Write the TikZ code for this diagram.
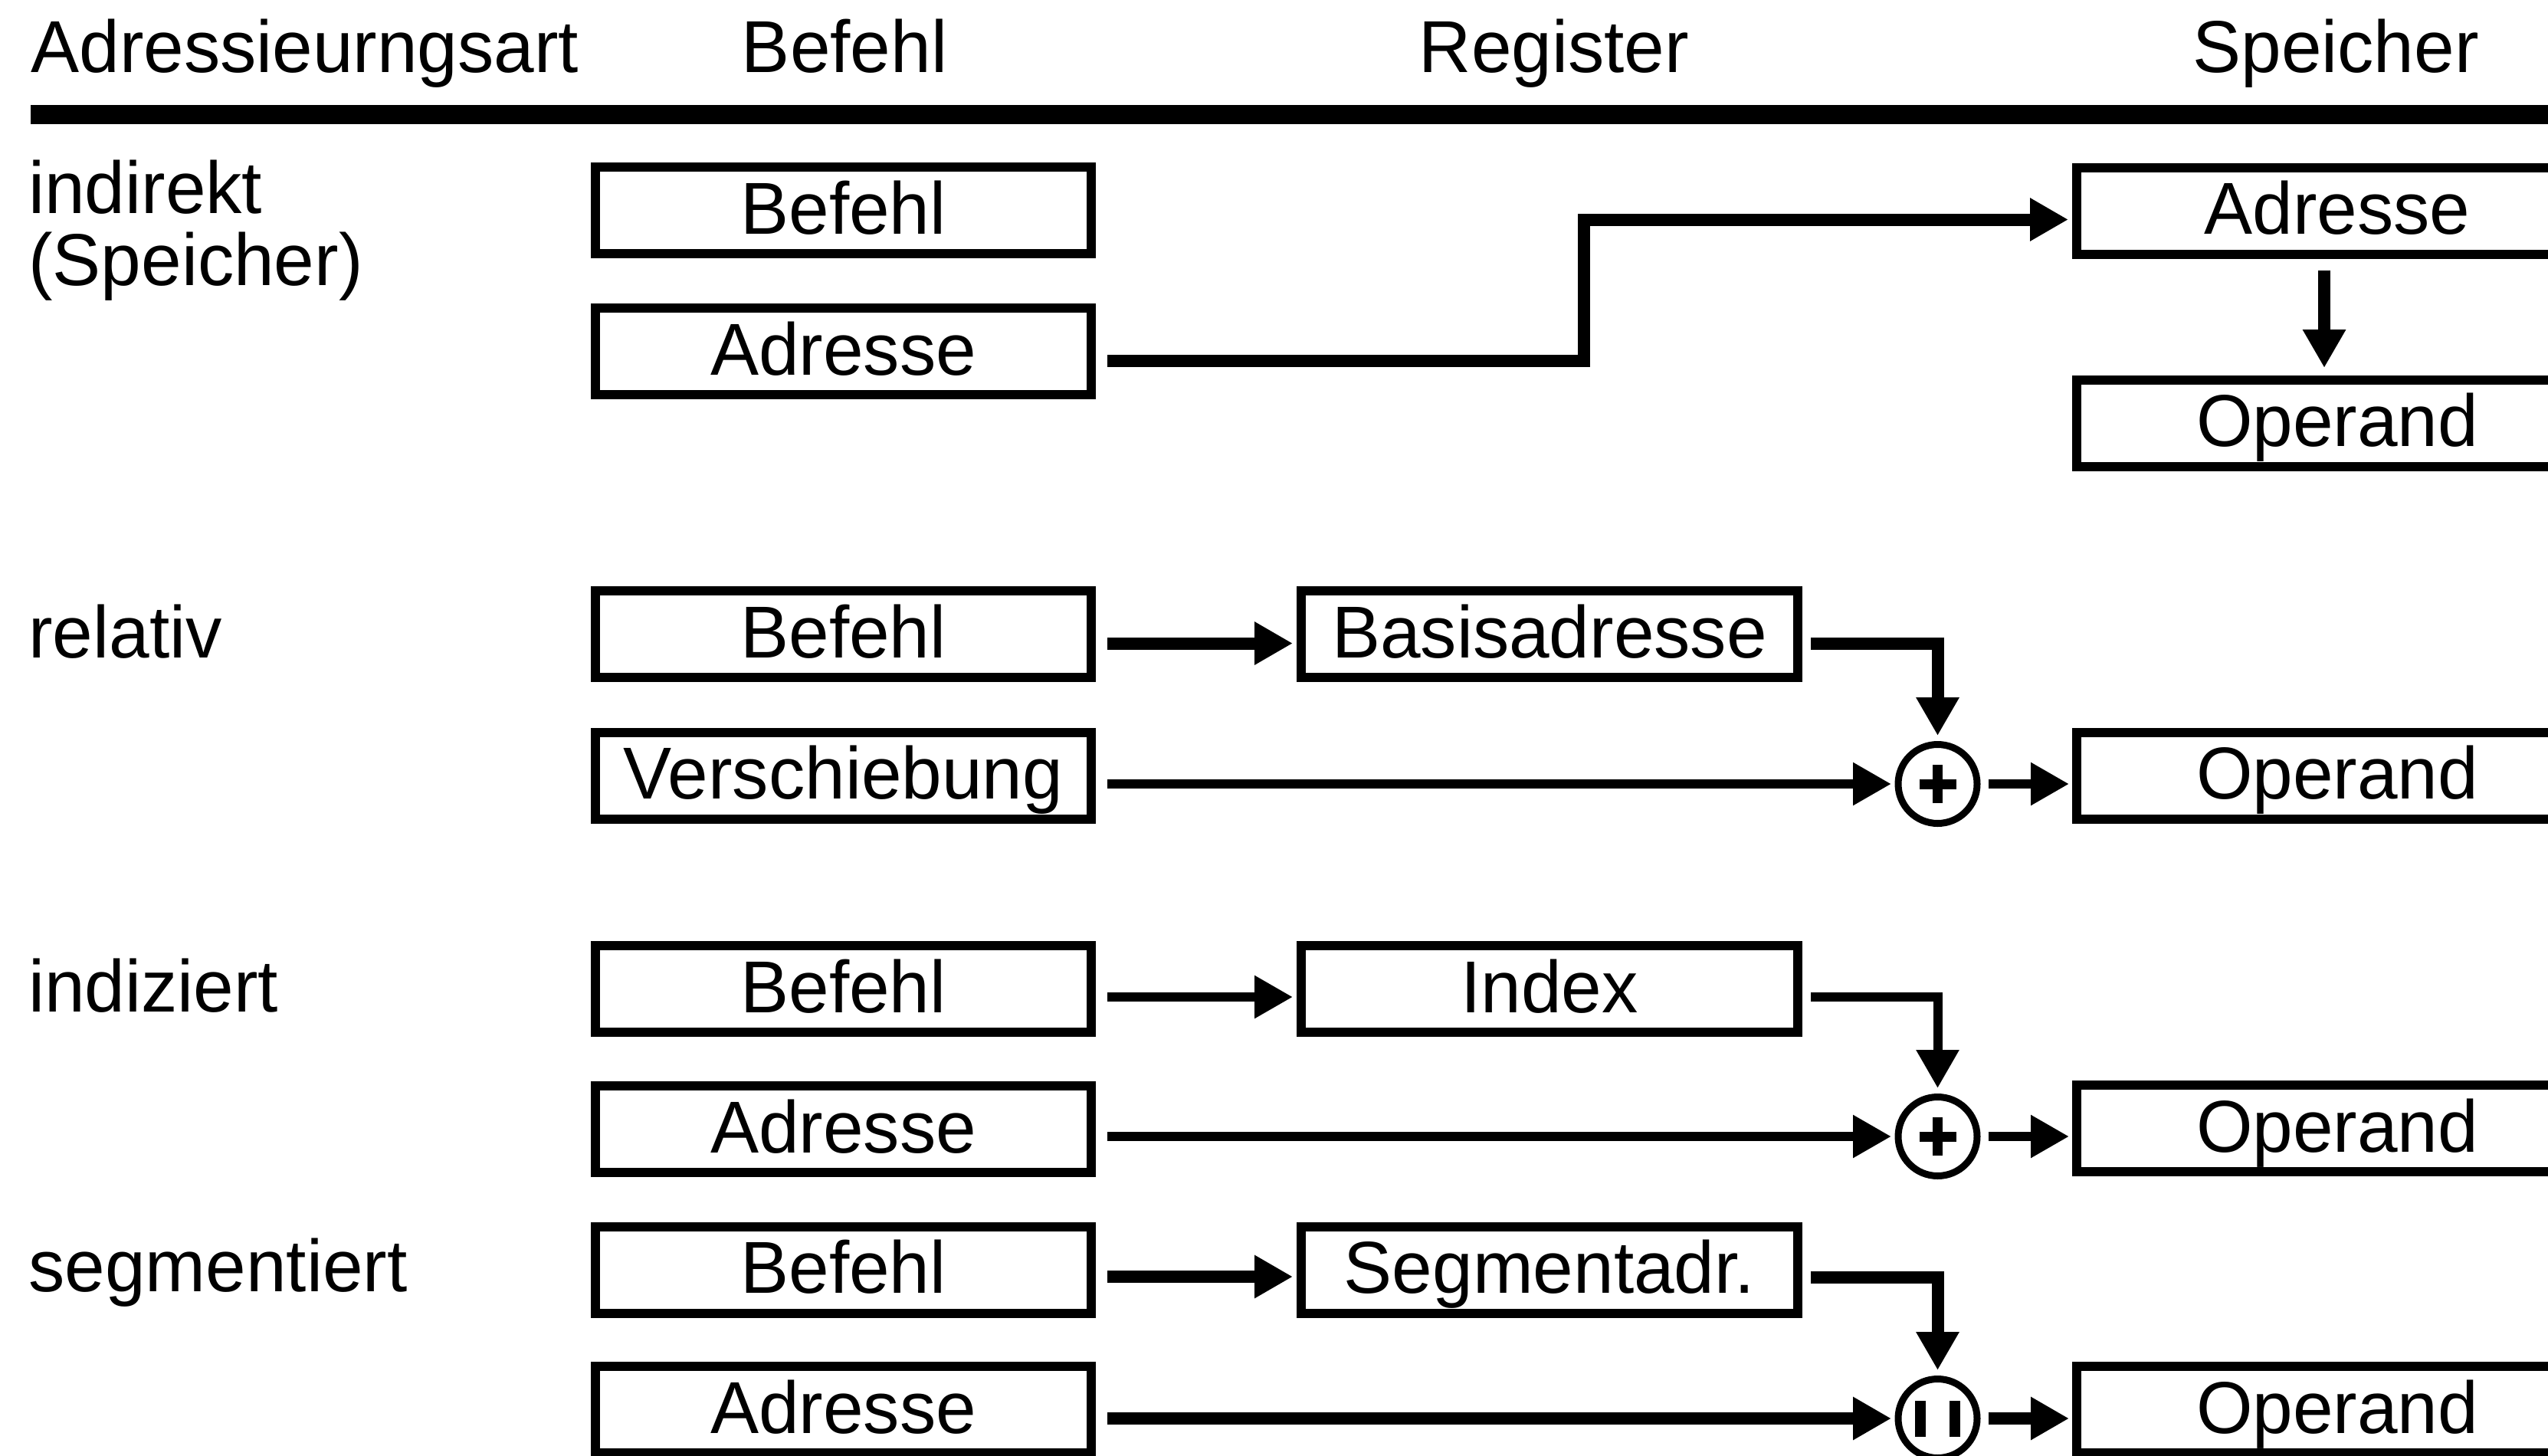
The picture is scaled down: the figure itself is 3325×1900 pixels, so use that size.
\documentclass[tikz,border=0pt]{standalone}
\usepackage{fontspec}
\setmainfont[FakeStretch=0.985]{Liberation Sans}
\usetikzlibrary{arrows.meta,calc}

\tikzset{
  lbl/.style={inner sep=0pt, font=\fontsize{48pt}{56pt}\selectfont},
  cell/.style={draw, line width=6pt, inner sep=0pt,
    minimum width=323.5pt, minimum height=56.5pt,
    text height=40.5pt, text depth=10pt,
    font=\fontsize{48pt}{56pt}\selectfont},
  regcell/.style={cell, minimum width=324pt},
  memcell/.style={cell, minimum width=340pt},
  sumnode/.style={draw, circle, line width=4.5pt, minimum size=51.5pt, inner sep=0pt},
  tipshape/.style={-{Triangle[length=25pt,width=26.5pt]}},
  heavy/.style={tipshape, line width=8pt, line join=miter},
  light/.style={tipshape, line width=6pt, line join=miter},
  sign/.style={line width=6.5pt},
}

\begin{document}
\begin{tikzpicture}[x=0.5pt, y=-0.5pt]
  \path[use as bounding box] (0,0) rectangle (3325,1900);
  \clip (0,0) rectangle (3325,1900);
  \fill[white] (0,0) rectangle (3325,1900);

  % column headings and rule
  \node[lbl, anchor=base west] (hmode) at (40,95) {Adressieurngsart};
  \node[lbl, anchor=base] (hcmd) at (1102,95) {Befehl};
  \node[lbl, anchor=base] (hreg) at (2028,95) {Register};
  \node[lbl, anchor=base] (hmem) at (3048,95) {Speicher};
  \draw[line width=12.5pt] (40,149.5) -- (3340,149.5);

  % row labels
  \node[lbl, anchor=base west] (m1a) at (37,278) {indirekt};
  \node[lbl, anchor=base west] (m1b) at (37,372) {(Speicher)};
  \node[lbl, anchor=base west] (m2) at (37,858) {relativ};
  \node[lbl, anchor=base west] (m3) at (37,1320) {indiziert};
  \node[lbl, anchor=base west] (m4) at (37,1685) {segmentiert};

  % indirekt (Speicher)
  \node[cell] (b1) at (1100.5,274.5) {Befehl};
  \node[cell] (a1) at (1100.5,458.5) {Adresse};
  \node[memcell] (sa1) at (3050,275) {Adresse};
  \node[memcell] (so1) at (3050,552) {Operand};

  % relativ
  \node[cell] (b2) at (1100.5,827.5) {Befehl};
  \node[cell] (v2) at (1100.5,1012) {Verschiebung};
  \node[regcell] (r2) at (2022,827.5) {Basisadresse};
  \node[sumnode] (c2) at (2528.5,1023) {};
  \node[memcell] (o2) at (3050,1012) {Operand};

  % indiziert
  \node[cell] (b3) at (1100.5,1290.5) {Befehl};
  \node[cell] (a3) at (1100.5,1473.5) {Adresse};
  \node[regcell] (r3) at (2022,1290.5) {Index};
  \node[sumnode] (c3) at (2528.5,1483) {};
  \node[memcell] (o3) at (3050,1472.5) {Operand};

  % segmentiert
  \node[cell] (b4) at (1100.5,1657) {Befehl};
  \node[cell] (a4) at (1100.5,1839.5) {Adresse};
  \node[regcell] (r4) at (2022,1657) {Segmentadr.};
  \node[sumnode] (c4) at (2528.5,1851) {};
  \node[memcell] (o4) at (3050,1839.5) {Operand};

  % adder and concatenation marks
  \foreach \c in {c2,c3} {
    \draw[sign] ([xshift=-12pt]\c.center) -- ([xshift=12pt]\c.center);
    \draw[sign] ([yshift=-12.5pt]\c.center) -- ([yshift=12.5pt]\c.center);
  }
  \draw[line width=7pt] ([xshift=-11.25pt,yshift=-11.75pt]c4.center) -- ([xshift=-11.25pt,yshift=11.75pt]c4.center);
  \draw[line width=7pt] ([xshift=11.25pt,yshift=-11.75pt]c4.center) -- ([xshift=11.25pt,yshift=11.75pt]c4.center);

  % connectors: indirekt
  \coordinate (mid1) at ($(a1.east)!.5!(sa1.west)$);
  \coordinate (p1) at ([xshift=7.5pt,yshift=-6.25pt]a1.east);
  \coordinate (q1) at ([xshift=-2.5pt,yshift=-5.75pt]sa1.west);
  \draw[heavy] (p1) -- (p1 -| mid1) -- (mid1 |- q1) -- (q1);
  \draw[heavy] ([xshift=-8.5pt,yshift=-7.5pt]sa1.south) -- ([xshift=-8.5pt,yshift=4.75pt]so1.north);

  % connectors: relativ
  \draw[heavy] ([xshift=7.5pt,yshift=-6pt]b2.east) -- ([xshift=-2.5pt,yshift=-6pt]r2.west);
  \draw[heavy] ([xshift=5.5pt,yshift=-6pt]r2.east) -| ([yshift=3.5pt]c2.north);
  \draw[light] ([xshift=7.5pt]v2.east |- c2.west) -- ([xshift=-2.25pt]c2.west);
  \draw[light] ([xshift=5pt]c2.east) -- ([xshift=-2pt]o2.west |- c2.east);

  % connectors: indiziert
  \draw[light] ([xshift=7.5pt,yshift=-5.25pt]b3.east) -- ([xshift=-2.5pt,yshift=-5.25pt]r3.west);
  \draw[light] ([xshift=5.5pt,yshift=-5.25pt]r3.east) -| ([yshift=3.5pt]c3.north);
  \draw[light] ([xshift=7.5pt]a3.east |- c3.west) -- ([xshift=-2.25pt]c3.west);
  \draw[light] ([xshift=5pt]c3.east) -- ([xshift=-2pt]o3.west |- c3.east);

  % connectors: segmentiert
  \draw[heavy] ([xshift=7.5pt,yshift=-4.5pt]b4.east) -- ([xshift=-2.5pt,yshift=-4.5pt]r4.west);
  \draw[heavy] ([xshift=5.5pt,yshift=-5pt]r4.east) -| ([yshift=3.5pt]c4.north);
  \draw[heavy] ([xshift=7.5pt]a4.east |- c4.west) -- ([xshift=-2.25pt]c4.west);
  \draw[heavy] ([xshift=5pt]c4.east) -- ([xshift=-2pt]o4.west |- c4.east);
\end{tikzpicture}
\end{document}
